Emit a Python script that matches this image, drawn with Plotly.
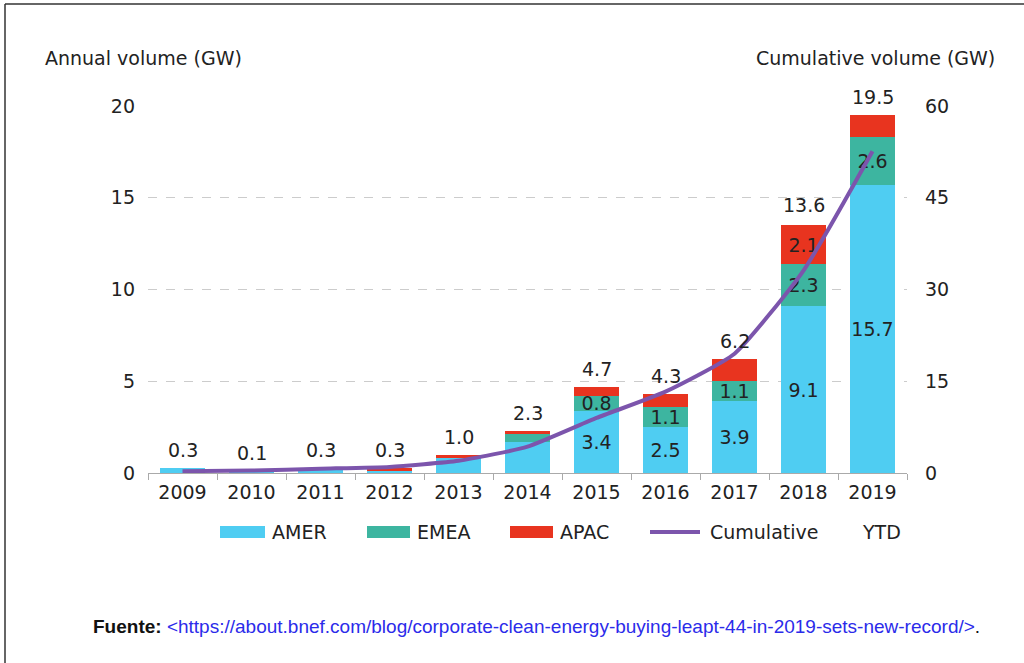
import plotly.graph_objects as go

years = ["2009", "2010", "2011", "2012", "2013", "2014", "2015", "2016", "2017", "2018", "2019"]
amer = [0.3, 0.1, 0.3, 0.1, 0.8, 1.7, 3.4, 2.5, 3.9, 9.1, 15.7]
emea = [0.0, 0.0, 0.0, 0.0, 0.0, 0.4, 0.8, 1.1, 1.1, 2.3, 2.6]
apac = [0.0, 0.0, 0.0, 0.2, 0.2, 0.2, 0.5, 0.7, 1.2, 2.1, 1.2]
totals = [0.3, 0.1, 0.3, 0.3, 1.0, 2.3, 4.7, 4.3, 6.2, 13.6, 19.5]
cumulative = [0.3, 0.4, 0.7, 1.0, 2.0, 4.3, 9.0, 13.3, 19.5, 33.1, 52.6]
amer_labels = ["", "", "", "", "", "", "3.4", "2.5", "3.9", "9.1", "15.7"]
emea_labels = ["", "", "", "", "", "", "0.8", "1.1", "1.1", "2.3", "2.6"]
apac_labels = ["", "", "", "", "", "", "", "", "", "2.1", ""]
total_labels = ["0.3", "0.1", "0.3", "0.3", "1.0", "2.3", "4.7", "4.3", "6.2", "13.6", "19.5"]

C_AMER = "#4fcdf2"
C_EMEA = "#3db5a0"
C_APAC = "#e8341f"
C_CUM = "#7c55ac"
FONT = "DejaVu Sans"
FS = 19
TXT = "#222222"

fig = go.Figure()
for vals, labs, col, name in [(amer, amer_labels, C_AMER, "AMER"),
                              (emea, emea_labels, C_EMEA, "EMEA"),
                              (apac, apac_labels, C_APAC, "APAC")]:
    fig.add_trace(go.Bar(
        x=years, y=vals, name=name, marker=dict(color=col, line=dict(width=0)),
        text=labs, textposition="inside", insidetextanchor="middle",
        textangle=0, constraintext="none",
        textfont=dict(family=FONT, size=FS, color=TXT),
        width=0.66, showlegend=False, hoverinfo="skip"))

fig.add_trace(go.Scatter(
    x=years, y=cumulative, yaxis="y2", mode="lines", name="Cumulative",
    line=dict(color=C_CUM, width=4, shape="spline", smoothing=0.5),
    showlegend=False, hoverinfo="skip"))

# totals above bars
for i, (tot, lab) in enumerate(zip(totals, total_labels)):
    fig.add_annotation(x=i, y=tot, xref="x", yref="y", text=lab, showarrow=False,
                       yanchor="bottom", yshift=5,
                       font=dict(family=FONT, size=FS, color=TXT))

fig.update_layout(
    width=1024, height=663,
    margin=dict(l=148, r=117, t=106, b=190),
    paper_bgcolor="white", plot_bgcolor="white",
    barmode="stack",
    font=dict(family=FONT, size=FS, color=TXT),
    xaxis=dict(type="category", range=[-0.5, 10.5], autorange=False, showgrid=False,
               showline=True, linecolor="#aaaaaa",
               linewidth=1, ticks="outside", tickson="boundaries", ticklen=6,
               tickcolor="#aaaaaa", tickfont=dict(family=FONT, size=FS, color=TXT),
               ticklabelstandoff=2),
    yaxis=dict(range=[0, 20], autorange=False, tickvals=[0, 5, 10, 15, 20], showgrid=True,
               gridcolor="#cccccc", griddash="dash", gridwidth=1, zeroline=False,
               showline=False, tickfont=dict(family=FONT, size=FS, color=TXT),
               ticklabelstandoff=12),
    yaxis2=dict(range=[0, 60], autorange=False, tickvals=[0, 15, 30, 45, 60], overlaying="y",
                side="right", showgrid=False, zeroline=False, showline=False,
                tickfont=dict(family=FONT, size=FS, color=TXT),
                ticklabelstandoff=17),
)

def px_x(p):
    return (p - 148) / (907 - 148)

def px_y(p):
    return (473 - p) / (473 - 106)

# axis titles
fig.add_annotation(xref="paper", yref="paper", x=px_x(43), y=px_y(58), xanchor="left",
                   yanchor="middle", text="Annual volume (GW)", showarrow=False,
                   font=dict(family=FONT, size=FS, color=TXT))
fig.add_annotation(xref="paper", yref="paper", x=px_x(997), y=px_y(58), xanchor="right",
                   yanchor="middle", text="Cumulative volume (GW)", showarrow=False,
                   font=dict(family=FONT, size=FS, color=TXT))

# manual legend
leg_y = 532
for x0, x1, tx, col, lab in [(220, 265, 270, C_AMER, "AMER"),
                             (367, 410, 415, C_EMEA, "EMEA"),
                             (510, 553, 558, C_APAC, "APAC")]:
    fig.add_shape(type="rect", xref="paper", yref="paper",
                  x0=px_x(x0), x1=px_x(x1), y0=px_y(leg_y + 6), y1=px_y(leg_y - 6),
                  fillcolor=col, line=dict(width=0))
    fig.add_annotation(xref="paper", yref="paper", x=px_x(tx), y=px_y(leg_y),
                       xanchor="left", yanchor="middle", text=lab, showarrow=False,
                       font=dict(family=FONT, size=FS, color=TXT))
fig.add_shape(type="line", xref="paper", yref="paper", x0=px_x(650), x1=px_x(700),
              y0=px_y(leg_y), y1=px_y(leg_y), line=dict(color=C_CUM, width=4))
fig.add_annotation(xref="paper", yref="paper", x=px_x(708), y=px_y(leg_y),
                   xanchor="left", yanchor="middle", text="Cumulative", showarrow=False,
                   font=dict(family=FONT, size=FS, color=TXT))
fig.add_annotation(xref="paper", yref="paper", x=px_x(860), y=px_y(leg_y),
                   xanchor="left", yanchor="middle", text="YTD", showarrow=False,
                   font=dict(family=FONT, size=FS, color=TXT))

# source
fig.add_annotation(xref="paper", yref="paper", x=px_x(91), y=px_y(626),
                   xanchor="left", yanchor="middle", showarrow=False,
                   text="<b>Fuente:</b> <span style='color:#2b2bea'>&lt;https://about.bnef.com/blog/corporate-clean-energy-buying-leapt-44-in-2019-sets-new-record/&gt;</span>.",
                   font=dict(family="Liberation Sans", size=19, color="#111111"))

# frame lines (top and left)
fig.add_shape(type="line", xref="paper", yref="paper", x0=px_x(5), x1=px_x(1024),
              y0=px_y(4), y1=px_y(4), line=dict(color="#333333", width=1.5))
fig.add_shape(type="line", xref="paper", yref="paper", x0=px_x(5), x1=px_x(5),
              y0=px_y(4), y1=px_y(663), line=dict(color="#333333", width=1.5))

fig.write_html("out.html", config={"displayModeBar": False},
               post_script="document.body.style.margin='0';")
